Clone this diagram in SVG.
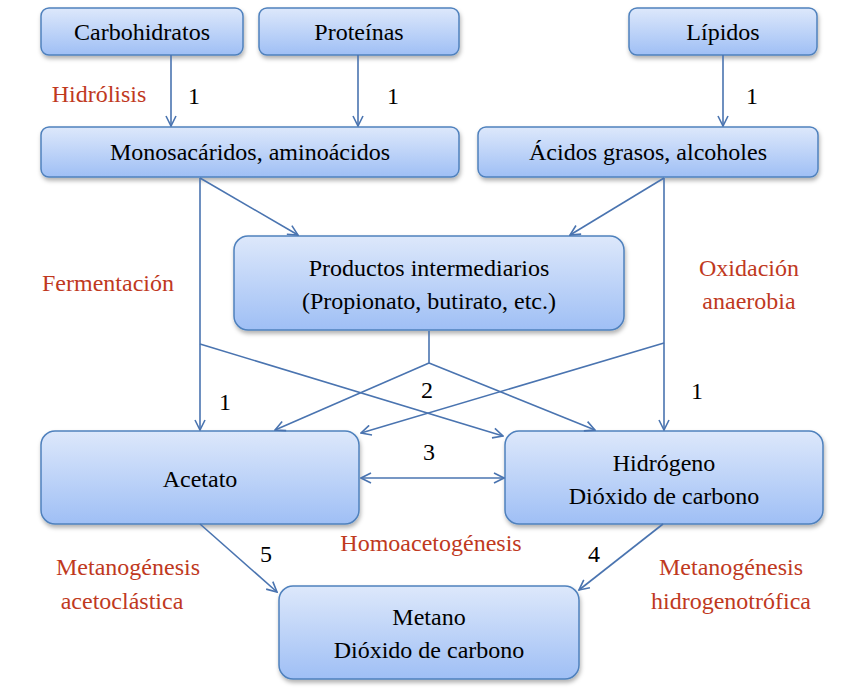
<svg xmlns="http://www.w3.org/2000/svg" width="853" height="696" viewBox="0 0 853 696">
<style>
.b{fill:url(#g);stroke:#4f81bd;stroke-width:1.5;filter:url(#s)}
text{font-family:'Liberation Serif','Times New Roman','DejaVu Serif',serif;font-size:24px;text-anchor:middle}
.t{fill:#000}
.r{fill:#c0391e}
.c line,.c polyline{stroke:#4a74b0;stroke-width:1.6;fill:none}
</style>
<defs>
<linearGradient id="g" x1="0" y1="0" x2="0" y2="1"><stop offset="0" stop-color="#dde8fb"/><stop offset="1" stop-color="#9fbff5"/></linearGradient>
<filter id="s" x="-10%" y="-10%" width="130%" height="140%"><feDropShadow dx="1" dy="3" stdDeviation="2" flood-color="#000" flood-opacity="0.3"/></filter>
<marker id="a" viewBox="0 0 12 12" refX="11" refY="6" markerWidth="12" markerHeight="12" markerUnits="userSpaceOnUse" orient="auto-start-reverse"><polyline points="1,1 11,6 1,11" fill="none" stroke="#4a74b0" stroke-width="1.6"/></marker>
</defs>
<rect width="853" height="696" fill="#fff"/>
<g id="carb"><rect class="b" x="41" y="8" width="202" height="47" rx="8"/><text class="t" x="142" y="40">Carbohidratos</text></g>
<g id="prot"><rect class="b" x="259" y="8" width="200" height="47" rx="8"/><text class="t" x="359" y="40">Proteínas</text></g>
<g id="lip"><rect class="b" x="629" y="8" width="188" height="47" rx="8"/><text class="t" x="723" y="40">Lípidos</text></g>
<g id="mono"><rect class="b" x="41" y="127" width="418" height="50" rx="8"/><text class="t" x="250" y="160">Monosacáridos, aminoácidos</text></g>
<g id="acid"><rect class="b" x="478" y="127" width="340" height="50" rx="8"/><text class="t" x="648" y="160">Ácidos grasos, alcoholes</text></g>
<g id="prod"><rect class="b" x="234" y="236" width="390" height="94" rx="14"/><text class="t" x="429" y="276">Productos intermediarios</text><text class="t" x="429" y="309">(Propionato, butirato, etc.)</text></g>
<g id="acet"><rect class="b" x="41" y="431" width="318" height="93" rx="14"/><text class="t" x="200" y="487">Acetato</text></g>
<g id="hidr"><rect class="b" x="505" y="431" width="318" height="93" rx="14"/><text class="t" x="664" y="471">Hidrógeno</text><text class="t" x="664" y="504">Dióxido de carbono</text></g>
<g id="met"><rect class="b" x="279" y="586" width="300" height="93" rx="14"/><text class="t" x="429" y="625">Metano</text><text class="t" x="429" y="658">Dióxido de carbono</text></g>
<g class="c" id="connectors">
<line x1="171" y1="55" x2="171" y2="126" marker-end="url(#a)"/>
<line x1="358" y1="55" x2="358" y2="126" marker-end="url(#a)"/>
<line x1="723" y1="55" x2="723" y2="126" marker-end="url(#a)"/>
<line x1="200" y1="178" x2="298" y2="235" marker-end="url(#a)"/>
<line x1="664" y1="178" x2="570" y2="235" marker-end="url(#a)"/>
<line x1="200" y1="178" x2="200" y2="430" marker-end="url(#a)"/>
<line x1="664" y1="178" x2="664" y2="430" marker-end="url(#a)"/>
<line x1="200" y1="344" x2="503" y2="436" marker-end="url(#a)"/>
<line x1="664" y1="343" x2="361" y2="433" marker-end="url(#a)"/>
<polyline points="429,331 429,363"/>
<line x1="429" y1="363" x2="275" y2="430" marker-end="url(#a)"/>
<line x1="429" y1="363" x2="595" y2="430" marker-end="url(#a)"/>
<line x1="361" y1="478" x2="504" y2="478" marker-start="url(#a)" marker-end="url(#a)"/>
<line x1="200" y1="524" x2="277" y2="592" marker-end="url(#a)"/>
<line x1="663" y1="524" x2="579" y2="590" marker-end="url(#a)"/>
</g>
<g id="labels">
<text class="r" x="99" y="102">Hidrólisis</text>
<text class="t" x="194" y="104">1</text>
<text class="t" x="393" y="104">1</text>
<text class="t" x="752" y="104">1</text>
<text class="r" x="108" y="291">Fermentación</text>
<text class="r" x="749" y="276">Oxidación</text>
<text class="r" x="749" y="309">anaerobia</text>
<text class="t" x="225" y="410">1</text>
<text class="t" x="427" y="398">2</text>
<text class="t" x="697" y="399">1</text>
<text class="t" x="429" y="460">3</text>
<text class="r" x="431" y="551">Homoacetogénesis</text>
<text class="t" x="266" y="562">5</text>
<text class="t" x="594" y="562">4</text>
<text class="r" x="128" y="575">Metanogénesis</text>
<text class="r" x="122" y="609">acetoclástica</text>
<text class="r" x="731" y="575">Metanogénesis</text>
<text class="r" x="731" y="609">hidrogenotrófica</text>
</g>
</svg>
